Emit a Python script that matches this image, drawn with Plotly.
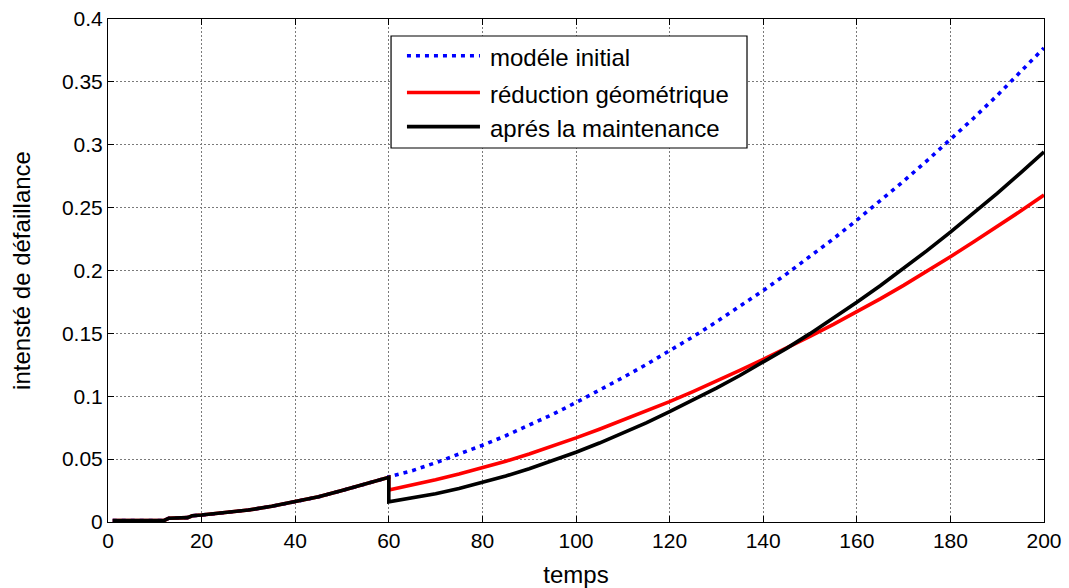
import plotly.graph_objects as go

# ---- data ----
t_before = [1, 12, 13, 17, 18, 20, 25, 30, 35, 40, 45, 50, 55, 60]
lam_before = [0.0012, 0.0012, 0.003, 0.0035, 0.005, 0.0055, 0.0075, 0.0095, 0.0125, 0.016, 0.020, 0.025, 0.030, 0.0355]

t_after = [60, 65, 70, 75, 80, 85, 90, 95, 100, 105, 110, 115, 120, 125, 130,
           135, 140, 145, 150, 155, 160, 165, 170, 175, 180, 185, 190, 195, 200]
blue_after = [0.0360, 0.0408, 0.0471, 0.0538, 0.0610, 0.0686, 0.0768, 0.0856, 0.0950, 0.1047, 0.1148,
              0.1252, 0.1360, 0.1473, 0.1591, 0.1713, 0.1840, 0.1973, 0.2110, 0.2252, 0.2400,
              0.2553, 0.2711, 0.2873, 0.3040, 0.3213, 0.3392, 0.3577, 0.3770]
red_after = [0.0255, 0.0294, 0.0336, 0.0381, 0.0429, 0.0483, 0.0541, 0.0603, 0.0669, 0.0738, 0.0809,
             0.0882, 0.0957, 0.1037, 0.1120, 0.1206, 0.1294, 0.1384, 0.1477, 0.1572, 0.1670,
             0.1774, 0.1882, 0.1994, 0.2110, 0.2228, 0.2349, 0.2473, 0.2600]
black_after = [0.0160, 0.0190, 0.0225, 0.0266, 0.0313, 0.0366, 0.0424, 0.0487, 0.0555, 0.0628, 0.0706,
               0.0789, 0.0877, 0.0969, 0.1065, 0.1165, 0.1269, 0.1381, 0.1498, 0.1620, 0.1747,
               0.1879, 0.2016, 0.2158, 0.2305, 0.2457, 0.2614, 0.2776, 0.2943]

series_names = ["modéle initial", "réduction géométrique", "aprés la maintenance"]
series_colors = ["#0000ff", "#ff0000", "#000000"]
series_dash = ["4px,5px", "solid", "solid"]

x_ticks = [0, 20, 40, 60, 80, 100, 120, 140, 160, 180, 200]
y_ticks = [0, 0.05, 0.1, 0.15, 0.2, 0.25, 0.3, 0.35, 0.4]
y_ticktext = ["0", "0.05", "0.1", "0.15", "0.2", "0.25", "0.3", "0.35", "0.4"]

FONT = "Liberation Sans, Arial, sans-serif"

fig = go.Figure()
ys = [lam_before + blue_after, lam_before + red_after, lam_before + black_after]
for name, col, dash, y in zip(series_names, series_colors, series_dash, ys):
    fig.add_trace(go.Scatter(
        x=t_before + t_after, y=y, mode="lines", name=name,
        line=dict(color=col, width=3.6, dash=dash),
        showlegend=False,
    ))

# custom legend (MATLAB-style long line samples)
lx0, lx1, ly0, ly1 = 0.3024, 0.6827, 0.7435, 0.9662
fig.add_shape(type="rect", xref="paper", yref="paper", x0=lx0, x1=lx1, y0=ly0, y1=ly1,
              line=dict(color="black", width=1.2), fillcolor="white", layer="above")
row_y = [0.9270, 0.8540, 0.7860]
for name, col, dash, ry in zip(series_names, series_colors, series_dash, row_y):
    fig.add_shape(type="line", xref="paper", yref="paper", x0=0.3194, x1=0.3974, y0=ry, y1=ry,
                  line=dict(color=col, width=3.6, dash=dash), layer="above")
    fig.add_annotation(xref="paper", yref="paper", x=0.4060, y=ry - 0.004, text=name, showarrow=False,
                       xanchor="left", yanchor="middle", font=dict(family=FONT, size=24, color="black"))

axis_common = dict(showline=True, linecolor="black", linewidth=1, mirror="ticks",
                   ticks="inside", ticklen=6, tickcolor="black", tickwidth=1,
                   showgrid=True, gridcolor="#7a7a7a", griddash="2px,2px", gridwidth=1,
                   zeroline=False, tickfont=dict(family=FONT, size=21, color="black"))

fig.update_xaxes(range=[0, 200], tickvals=x_ticks, ticktext=[str(v) for v in x_ticks],
                 title=dict(text="temps", font=dict(family=FONT, size=24, color="black"), standoff=14),
                 **axis_common)
fig.update_yaxes(range=[0, 0.4], tickvals=y_ticks, ticktext=y_ticktext,
                 title=dict(text="intensté de défaillance", font=dict(family=FONT, size=24, color="black"), standoff=24),
                 **axis_common)

fig.update_layout(width=1069, height=588, margin=dict(l=108, r=25, t=19, b=66, autoexpand=False),
                  plot_bgcolor="white", paper_bgcolor="white", font=dict(family=FONT, size=21))

fig.write_html("out.html")
